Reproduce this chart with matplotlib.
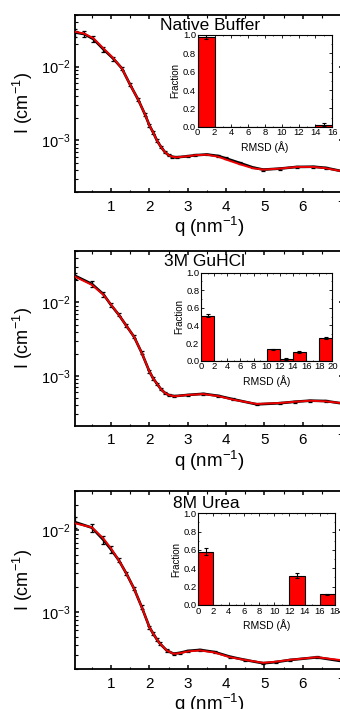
import matplotlib
matplotlib.use("Agg")
import matplotlib.pyplot as plt
from matplotlib.ticker import MultipleLocator, LogLocator, NullFormatter
import numpy as np

plt.rcParams['font.family'] = ['Liberation Sans', 'DejaVu Sans']
plt.rcParams['mathtext.default'] = 'regular'

# ---------------- data ----------------
titles = ["Native Buffer", "3M GuHCl", "8M Urea"]

q_native = [0.06, 0.3, 0.54, 0.8, 1.06, 1.28, 1.5, 1.71, 1.89, 2.0, 2.1, 2.2, 2.3, 2.4, 2.5,
            2.6, 2.71, 3.0, 3.2, 3.5, 3.8, 4.0, 4.36, 4.7, 4.97, 5.4, 5.84, 6.28, 6.6, 7.05]
fit_native = [0.0297, 0.0280, 0.0242, 0.0177, 0.0130, 0.0095, 0.00566, 0.00355, 0.00222,
              0.00160, 0.00128, 9.9e-4, 8.2e-4, 7.0e-4, 6.3e-4, 6.0e-4, 5.9e-4, 6.1e-4,
              6.3e-4, 6.4e-4, 6.0e-4, 5.5e-4, 4.75e-4, 4.2e-4, 4.02e-4, 4.15e-4, 4.37e-4,
              4.37e-4, 4.2e-4, 3.8e-4]
data_native = [0.0290, 0.0276, 0.0236, 0.0172, 0.0128, 0.0095, 0.00566, 0.00355, 0.00222,
               0.00160, 0.00128, 9.9e-4, 8.2e-4, 7.0e-4, 6.3e-4, 6.0e-4, 5.9e-4, 6.1e-4,
               6.3e-4, 6.45e-4, 6.15e-4, 5.7e-4, 4.94e-4, 4.3e-4, 4.02e-4, 4.15e-4, 4.37e-4,
               4.4e-4, 4.25e-4, 3.8e-4]
err_native = [0.12, 0.1, 0.09, 0.08, 0.06, 0.05, 0.05, 0.05, 0.05, 0.05, 0.05, 0.04, 0.04,
              0.04, 0.03, 0.03, 0.03, 0.03, 0.03, 0.03, 0.03, 0.03, 0.03, 0.03, 0.03, 0.03,
              0.03, 0.03, 0.03, 0.03]

q_gu = [0.06, 0.5, 0.8, 1.0, 1.2, 1.4, 1.6, 1.8, 2.0, 2.1, 2.2, 2.3, 2.4, 2.5, 2.65, 3.0,
        3.41, 3.8, 4.19, 4.8, 5.41, 5.8, 6.19, 6.6, 7.05]
fit_gu = [0.0224, 0.0173, 0.0127, 0.0093, 0.0068, 0.0048, 0.00340, 0.00206, 0.00115,
          9.2e-4, 7.8e-4, 6.6e-4, 5.9e-4, 5.5e-4, 5.27e-4, 5.5e-4, 5.66e-4, 5.3e-4,
          4.74e-4, 4.15e-4, 4.28e-4, 4.45e-4, 4.59e-4, 4.5e-4, 4.24e-4]
data_gu = [0.0230, 0.0178, 0.0129, 0.0092, 0.0068, 0.0048, 0.00340, 0.00206, 0.00115,
           9.2e-4, 7.8e-4, 6.6e-4, 5.9e-4, 5.5e-4, 5.3e-4, 5.5e-4, 5.7e-4, 5.35e-4,
           4.8e-4, 4.1e-4, 4.25e-4, 4.45e-4, 4.6e-4, 4.55e-4, 4.2e-4]
err_gu = [0.1, 0.09, 0.08, 0.07, 0.05, 0.05, 0.05, 0.05, 0.04, 0.04, 0.04, 0.04, 0.03,
          0.03, 0.03, 0.03, 0.03, 0.03, 0.03, 0.03, 0.03, 0.03, 0.03, 0.03, 0.03]

q_urea = [0.06, 0.5, 0.8, 1.0, 1.2, 1.4, 1.6, 1.8, 2.0, 2.1, 2.2, 2.28, 2.45, 2.63, 2.8,
          3.0, 3.32, 3.7, 4.1, 4.5, 4.97, 5.3, 5.67, 6.37, 7.05]
fit_urea = [0.0121, 0.0108, 0.0079, 0.00597, 0.0043, 0.00295, 0.00193, 0.00115, 6.55e-4,
            5.44e-4, 4.6e-4, 4.1e-4, 3.4e-4, 3.09e-4, 3.15e-4, 3.3e-4, 3.40e-4, 3.2e-4,
            2.81e-4, 2.6e-4, 2.40e-4, 2.48e-4, 2.61e-4, 2.81e-4, 2.57e-4]
data_urea = [0.0125, 0.0107, 0.0076, 0.0058, 0.0043, 0.00295, 0.00193, 0.00115, 6.55e-4,
             5.44e-4, 4.6e-4, 4.1e-4, 3.4e-4, 3.1e-4, 3.18e-4, 3.35e-4, 3.45e-4, 3.25e-4,
             2.85e-4, 2.6e-4, 2.37e-4, 2.45e-4, 2.6e-4, 2.8e-4, 2.5e-4]
err_urea = [0.15, 0.12, 0.1, 0.09, 0.06, 0.05, 0.05, 0.05, 0.04, 0.04, 0.04, 0.04, 0.03,
            0.03, 0.03, 0.03, 0.03, 0.03, 0.03, 0.03, 0.03, 0.03, 0.03, 0.03, 0.03]

rmsd_native = [0, 2, 4, 6, 8, 10, 12, 14]
frac_native = [0.98, 0, 0, 0, 0, 0, 0, 0.02]
frac_err_native = [0.02, 0, 0, 0, 0, 0, 0, 0.015]

rmsd_gu = [0, 2, 4, 6, 8, 10, 12, 14, 16, 18]
frac_gu = [0.51, 0, 0, 0, 0, 0.13, 0.02, 0.10, 0, 0.26]
frac_err_gu = [0.015, 0, 0, 0, 0, 0.008, 0.012, 0.008, 0, 0.01]

rmsd_urea = [0, 2, 4, 6, 8, 10, 12, 14, 16]
frac_urea = [0.58, 0, 0, 0, 0, 0, 0.32, 0, 0.115]
frac_err_urea = [0.04, 0, 0, 0, 0, 0, 0.03, 0, 0.008]

panels = [
    dict(q=q_native, fit=fit_native, data=data_native, err=err_native,
         ylim=(2.0e-4, 5.0e-2), rmsd=rmsd_native, frac=frac_native,
         ferr=frac_err_native, xmax=16),
    dict(q=q_gu, fit=fit_gu, data=data_gu, err=err_gu,
         ylim=(2.1e-4, 5.0e-2), rmsd=rmsd_gu, frac=frac_gu,
         ferr=frac_err_gu, xmax=20),
    dict(q=q_urea, fit=fit_urea, data=data_urea, err=err_urea,
         ylim=(2.0e-4, 3.0e-2), rmsd=rmsd_urea, frac=frac_urea,
         ferr=frac_err_urea, xmax=18),
]

# ---------------- layout (pixels) ----------------
W, H = 340, 709
main_boxes = [(75, 15, 343, 192), (75, 251, 343, 425.7), (75, 491, 343, 669.3)]
inset_boxes = [(197.7, 35, 332.3, 126.7), (201, 272.7, 332.3, 360.7), (198.3, 513.3, 335, 605)]
title_pos = [(210, 25), (204, 262), (206, 503)]


def frac_rect(b):
    l, t, r, bt = b
    return [l / W, 1 - bt / H, (r - l) / W, (bt - t) / H]


fig = plt.figure(figsize=(3.4, 7.09), dpi=100)

for i, p in enumerate(panels):
    ax = fig.add_axes(frac_rect(main_boxes[i]))
    q = np.array(p['q'])
    d = np.array(p['data'])
    e = np.array(p['err']) * d
    ax.plot(q, d, color='black', lw=1.9, zorder=2)
    ax.errorbar(q, d, yerr=e, fmt='none', ecolor='black', elinewidth=0.9,
                capsize=1.6, capthick=0.9, zorder=2)
    ax.plot(q, p['fit'], color='#ee0000', lw=1.4, zorder=3)
    ax.set_yscale('log')
    ax.set_xlim(0.06, 7.05)
    ax.set_ylim(*p['ylim'])
    ax.xaxis.set_major_locator(MultipleLocator(1))
    ax.xaxis.set_minor_locator(MultipleLocator(0.5))
    ax.yaxis.set_major_locator(LogLocator(base=10, numticks=10))
    ax.yaxis.set_minor_locator(LogLocator(base=10, subs=np.arange(2, 10), numticks=20))
    ax.yaxis.set_minor_formatter(NullFormatter())
    for s in ax.spines.values():
        s.set_linewidth(1.3)
    ax.tick_params(which='major', direction='in', length=3, width=1.1,
                   top=True, right=True, labelsize=10.5)
    ax.tick_params(which='minor', direction='in', length=1.8, width=0.8,
                   top=True, right=True)
    ax.tick_params(axis='x', which='major', pad=5.5, labelsize=11)
    ax.set_xlabel('q (nm$^{-1}$)', fontsize=13.5, labelpad=1)
    ax.set_ylabel('I (cm$^{-1}$)', fontsize=13, labelpad=4)
    fig.text(title_pos[i][0] / W, 1 - title_pos[i][1] / H, titles[i],
             ha='center', va='center', fontsize=12.5, zorder=10)

    # inset histogram
    ins = fig.add_axes(frac_rect(inset_boxes[i]))
    ins.bar(p['rmsd'], p['frac'], width=2, align='edge', color='#ff0000',
            edgecolor='black', linewidth=0.8, zorder=2)
    centers = np.array(p['rmsd']) + 1
    fr = np.array(p['frac'])
    fe = np.array(p['ferr'])
    m = fe > 0
    ins.errorbar(centers[m], fr[m], yerr=fe[m], fmt='none', ecolor='black',
                 elinewidth=0.8, capsize=1.3, capthick=0.8, zorder=3)
    ins.set_xlim(0, p['xmax'])
    ins.set_ylim(0, 1.0)
    ins.xaxis.set_major_locator(MultipleLocator(2))
    ins.xaxis.set_minor_locator(MultipleLocator(1))
    ins.yaxis.set_minor_locator(MultipleLocator(0.1))
    ins.set_yticks(np.arange(0, 1.01, 0.2))
    ins.set_yticklabels(['0.0', '0.2', '0.4', '0.6', '0.8', '1.0'])
    for s in ins.spines.values():
        s.set_linewidth(0.8)
    ins.tick_params(which='major', direction='in', length=2, width=0.6,
                    labelsize=6.8, pad=1.2, top=True, right=True)
    ins.tick_params(which='minor', direction='in', length=1, width=0.5,
                    top=True, right=True)
    ins.set_xlabel('RMSD (Å)', fontsize=7.5, labelpad=2.5)
    ins.set_ylabel('Fraction', fontsize=7, labelpad=1.5)

fig.savefig('out.png', dpi=100)
